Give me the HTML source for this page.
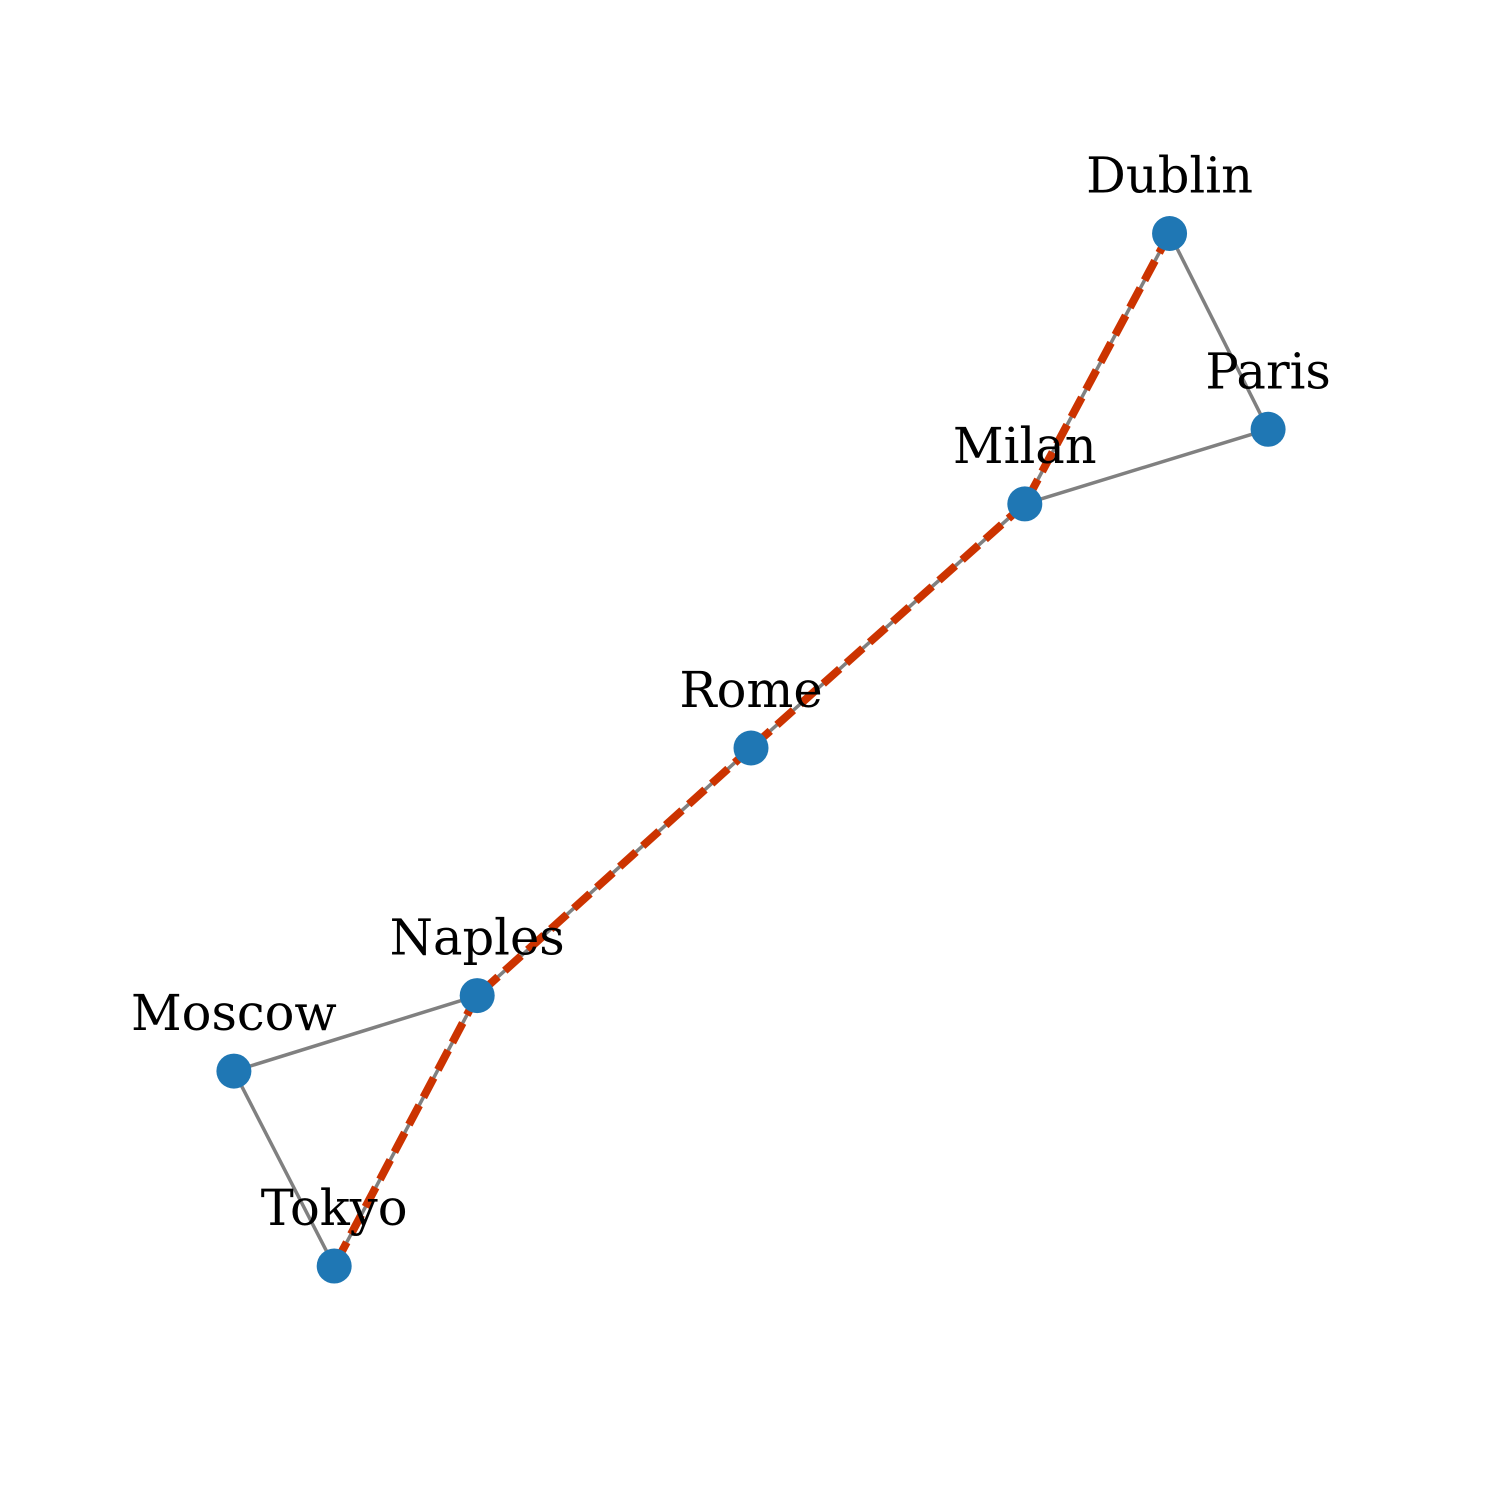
<!DOCTYPE html>
<html><head><meta charset="utf-8"><style>html,body{margin:0;padding:0;background:#fff}</style></head>
<body>
<svg id="chart" width="1500" height="1500" viewBox="0 0 1500 1500" xmlns="http://www.w3.org/2000/svg">
<rect width="1500" height="1500" fill="#fff"/>
<g id="edges"></g>
<g id="path"></g>
<g id="nodes"></g>
<g id="labels"></g>
</svg>
<script>
const nodeNames = ["Dublin","Paris","Milan","Rome","Naples","Moscow","Tokyo"];
const nodeX = [0.837, 0.950, 0.671, 0.357, 0.043, -0.236, -0.121];
const nodeY = [0.893, 0.670, 0.585, 0.307, 0.025, -0.061, -0.283];
const edgeList = [["Dublin","Paris"],["Paris","Milan"],["Milan","Dublin"],["Milan","Rome"],["Rome","Naples"],["Naples","Moscow"],["Moscow","Tokyo"],["Naples","Tokyo"]];
const shortestPath = ["Dublin","Milan","Rome","Naples","Tokyo"];

const NS = "http://www.w3.org/2000/svg";
function sx(x){ return 751 + (x - 0.357) * 872; }
function sy(y){ return 748 - (y - 0.307) * 878; }
function pos(n){ const i = nodeNames.indexOf(n); return [sx(nodeX[i]), sy(nodeY[i])]; }
function line(g, a, b, stroke, w, dash, name){
  const [x1,y1]=pos(a), [x2,y2]=pos(b);
  const l=document.createElementNS(NS,"line");
  l.setAttribute("x1",x1);l.setAttribute("y1",y1);l.setAttribute("x2",x2);l.setAttribute("y2",y2);
  l.setAttribute("stroke",stroke);l.setAttribute("stroke-width",w);
  if(dash) l.setAttribute("stroke-dasharray",dash);
  
  
  g.appendChild(l);
}
const eg=document.getElementById("edges");
edgeList.forEach(e=>line(eg,e[0],e[1],"#808080",3.5,null,"edge-"+e[0].toLowerCase()+"-"+e[1].toLowerCase()));
const pg=document.getElementById("path");
for(let i=0;i<shortestPath.length-1;i++){
  line(pg,shortestPath[i],shortestPath[i+1],"#cc3300",8,"22 9","path-edge-"+shortestPath[i].toLowerCase()+"-"+shortestPath[i+1].toLowerCase());
}
const ng=document.getElementById("nodes"), lg=document.getElementById("labels");
nodeNames.forEach(n=>{
  const [x,y]=pos(n);
  const c=document.createElementNS(NS,"circle");
  c.setAttribute("cx",x);c.setAttribute("cy",y);c.setAttribute("r",17.5);c.setAttribute("fill","#1f77b4");
  
  
  ng.appendChild(c);
  const t=document.createElementNS(NS,"text");
  t.setAttribute("x",x);t.setAttribute("y",y-41);t.setAttribute("text-anchor","middle");
  t.setAttribute("font-family","'DejaVu Serif','Liberation Serif',serif");t.setAttribute("font-size","49.5");
  t.textContent=n;
  
  
  lg.appendChild(t);
});
</script>
</body></html>
